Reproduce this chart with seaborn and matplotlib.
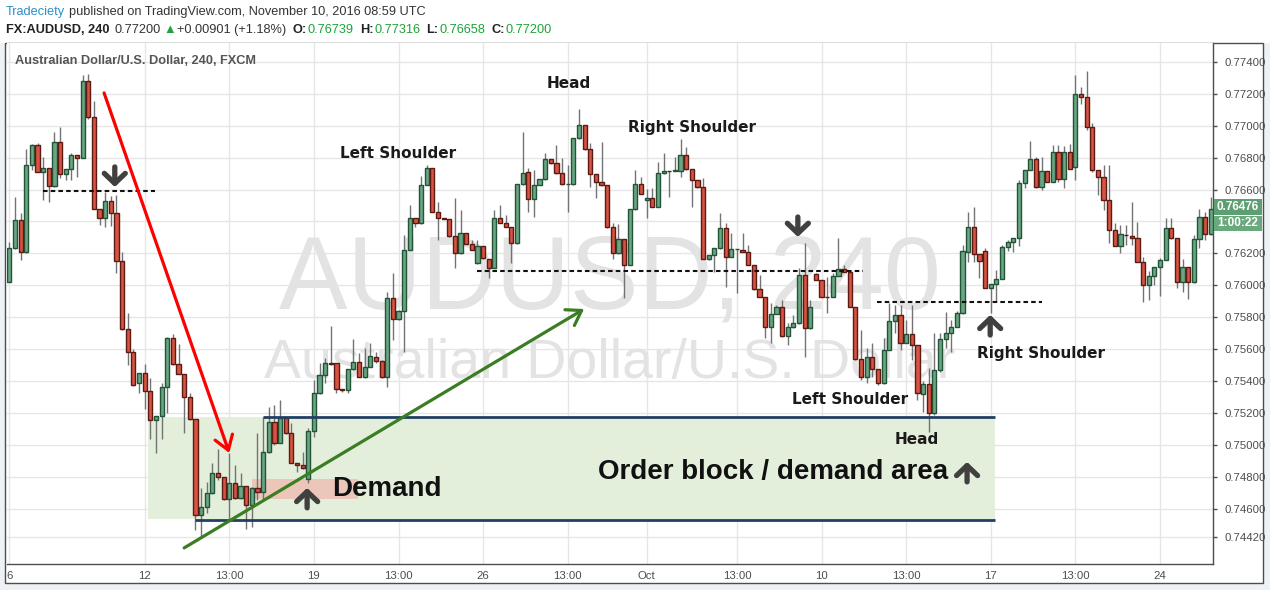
import numpy as np
import pandas as pd
import matplotlib
matplotlib.use("Agg")
import matplotlib.pyplot as plt
import matplotlib.patches as mpatches
import seaborn as sns

# AUDUSD 240 candles (bar index 0 = Sep 6)
opens = [0.76023, 0.76232, 0.76410, 0.76207, 0.76755, 0.76880, 0.76713, 0.76734, 0.76620, 0.76900,
         0.76696, 0.76727, 0.76817, 0.76796, 0.77280, 0.77053, 0.76479, 0.76424, 0.76529, 0.76450,
         0.76149, 0.75724, 0.75580, 0.75389, 0.75448, 0.75339, 0.75155, 0.75180, 0.75360, 0.75667,
         0.75504, 0.75442, 0.75297, 0.75160, 0.74560, 0.74608, 0.74695, 0.74820, 0.74796, 0.74658,
         0.74758, 0.74664, 0.74741, 0.74620, 0.74727, 0.74702, 0.74957, 0.75145, 0.75013, 0.75170,
         0.75072, 0.74883, 0.74873, 0.74784, 0.75089, 0.75323, 0.75438, 0.75515, 0.75511, 0.75348,
         0.75340, 0.75473, 0.75521, 0.75423, 0.75490, 0.75553, 0.75528, 0.75423, 0.75918, 0.75787,
         0.75841, 0.76222, 0.76420, 0.76389, 0.76629, 0.76734, 0.76462, 0.76420, 0.76414, 0.76309,
         0.76201, 0.76326, 0.76259, 0.76138, 0.76247, 0.76163, 0.76107, 0.76420, 0.76393, 0.76368,
         0.76263, 0.76633, 0.76713, 0.76539, 0.76629, 0.76665, 0.76790, 0.76765, 0.76702, 0.76633,
         0.76633, 0.76922, 0.77005, 0.76853, 0.76698, 0.76648, 0.76627, 0.76364, 0.76201, 0.76288,
         0.76127, 0.76476, 0.76633, 0.76535, 0.76545, 0.76493, 0.76702, 0.76717, 0.76717, 0.76717,
         0.76817, 0.76727, 0.76660, 0.76614, 0.76163, 0.76190, 0.76232, 0.76357, 0.76180, 0.76226,
         0.76222, 0.76211, 0.76127, 0.75975, 0.75929, 0.75737, 0.75820, 0.75862, 0.75682, 0.75737,
         0.75762, 0.76065, 0.75730, 0.76071, 0.76033, 0.75929, 0.75929, 0.76058, 0.76100, 0.76086,
         0.75866, 0.75536, 0.75427, 0.75549, 0.75473, 0.75385, 0.75595, 0.75778, 0.75814, 0.75640,
         0.75695, 0.75626, 0.75316, 0.75379, 0.75197, 0.75469, 0.75663, 0.75699, 0.75741, 0.75824,
         0.76211, 0.76363, 0.76194, 0.76215, 0.75981, 0.76006, 0.76040, 0.76240, 0.76274, 0.76295,
         0.76639, 0.76723, 0.76790, 0.76618, 0.76717, 0.76650, 0.76834, 0.76664, 0.76834, 0.76739,
         0.77200, 0.77180, 0.76990, 0.76723, 0.76681, 0.76535, 0.76347, 0.76249, 0.76315, 0.76311,
         0.76299, 0.76144, 0.76002, 0.76060, 0.76113, 0.76159, 0.76357, 0.76295, 0.76023, 0.76113,
         0.76019, 0.76290, 0.76426, 0.76319]
highs = [0.76274, 0.76556, 0.76450, 0.76855, 0.76884, 0.76890, 0.76807, 0.76734, 0.76960, 0.76990,
         0.76727, 0.76828, 0.76817, 0.77319, 0.77323, 0.77156, 0.76479, 0.76587, 0.76562, 0.76566,
         0.76211, 0.75824, 0.75598, 0.75448, 0.75504, 0.75416, 0.75180, 0.75385, 0.75678, 0.75694,
         0.75632, 0.75442, 0.75322, 0.75160, 0.74727, 0.74769, 0.74888, 0.74971, 0.74796, 0.74946,
         0.74873, 0.74820, 0.74741, 0.74737, 0.75076, 0.75176, 0.75239, 0.75250, 0.75280, 0.75172,
         0.75134, 0.74885, 0.74953, 0.75103, 0.75406, 0.75511, 0.75542, 0.75745, 0.75512, 0.75349,
         0.75473, 0.75661, 0.75574, 0.75605, 0.75640, 0.75584, 0.75530, 0.75960, 0.76075, 0.75843,
         0.76315, 0.76504, 0.76420, 0.76685, 0.76754, 0.76734, 0.76525, 0.76420, 0.76414, 0.76545,
         0.76472, 0.76326, 0.76284, 0.76284, 0.76247, 0.76163, 0.76472, 0.76504, 0.76441, 0.76368,
         0.76633, 0.76963, 0.76734, 0.76723, 0.76667, 0.76832, 0.76790, 0.76880, 0.76796, 0.76754,
         0.76922, 0.77103, 0.77005, 0.76894, 0.76698, 0.76901, 0.76627, 0.76389, 0.76384, 0.76288,
         0.76476, 0.76723, 0.76681, 0.76602, 0.76608, 0.76775, 0.76828, 0.76717, 0.76807, 0.76915,
         0.76869, 0.76727, 0.76660, 0.76671, 0.76190, 0.76232, 0.76456, 0.76389, 0.76326, 0.76230,
         0.76326, 0.76253, 0.76127, 0.76065, 0.75929, 0.75891, 0.75877, 0.75908, 0.75762, 0.75814,
         0.76107, 0.76263, 0.75908, 0.76075, 0.76035, 0.76054, 0.76075, 0.76295, 0.76127, 0.76086,
         0.75866, 0.75720, 0.75605, 0.75636, 0.75473, 0.75668, 0.75887, 0.75877, 0.75877, 0.75783,
         0.75877, 0.75626, 0.75400, 0.75479, 0.75699, 0.75699, 0.75835, 0.75782, 0.75839, 0.76253,
         0.76462, 0.76493, 0.76194, 0.76236, 0.76006, 0.76096, 0.76253, 0.76284, 0.76299, 0.76660,
         0.76723, 0.76905, 0.76807, 0.76807, 0.76719, 0.76880, 0.76880, 0.76876, 0.76884, 0.77316,
         0.77245, 0.77344, 0.77016, 0.76725, 0.76754, 0.76754, 0.76389, 0.76378, 0.76378, 0.76524,
         0.76399, 0.76180, 0.76090, 0.76113, 0.76169, 0.76420, 0.76420, 0.76297, 0.76165, 0.76115,
         0.76315, 0.76478, 0.76462, 0.76556]
lows = [0.76019, 0.76230, 0.76160, 0.76200, 0.76723, 0.76710, 0.76535, 0.76525, 0.76614, 0.76675,
        0.76660, 0.76660, 0.76680, 0.76796, 0.77043, 0.76479, 0.76378, 0.76368, 0.76370, 0.76075,
        0.75720, 0.75500, 0.75368, 0.75327, 0.75222, 0.75034, 0.74950, 0.75034, 0.75197, 0.75500,
        0.75442, 0.75076, 0.75155, 0.74466, 0.74424, 0.74570, 0.74690, 0.74779, 0.74654, 0.74528,
        0.74660, 0.74660, 0.74470, 0.74482, 0.74654, 0.74654, 0.74950, 0.74998, 0.75010, 0.75070,
        0.74883, 0.74831, 0.74850, 0.74763, 0.75050, 0.75320, 0.75385, 0.75500, 0.75327, 0.75333,
        0.75327, 0.75470, 0.75423, 0.75420, 0.75488, 0.75511, 0.75420, 0.75360, 0.75657, 0.75785,
        0.75584, 0.76220, 0.76368, 0.76385, 0.76627, 0.76460, 0.76284, 0.76414, 0.76305, 0.76107,
        0.76199, 0.76257, 0.76220, 0.76136, 0.76167, 0.76044, 0.76105, 0.76392, 0.76366, 0.76138,
        0.76260, 0.76630, 0.76462, 0.76430, 0.76627, 0.76663, 0.76763, 0.76700, 0.76630, 0.76462,
        0.76630, 0.76920, 0.76851, 0.76619, 0.76545, 0.76625, 0.76362, 0.76163, 0.76199, 0.75918,
        0.76125, 0.76474, 0.76569, 0.76420, 0.76491, 0.76491, 0.76700, 0.76556, 0.76715, 0.76681,
        0.76725, 0.76493, 0.76612, 0.76163, 0.76161, 0.76086, 0.76230, 0.75992, 0.76178, 0.75950,
        0.76209, 0.76125, 0.75973, 0.75927, 0.75668, 0.75636, 0.75818, 0.75678, 0.75626, 0.75735,
        0.75760, 0.75553, 0.75728, 0.76031, 0.75927, 0.75824, 0.75927, 0.76056, 0.76084, 0.75864,
        0.75534, 0.75406, 0.75385, 0.75425, 0.75375, 0.75383, 0.75593, 0.75699, 0.75595, 0.75638,
        0.75532, 0.75281, 0.75208, 0.75082, 0.75187, 0.75458, 0.75605, 0.75584, 0.75739, 0.75822,
        0.76148, 0.76148, 0.76048, 0.75981, 0.75824, 0.75897, 0.76038, 0.76215, 0.76211, 0.76249,
        0.76608, 0.76721, 0.76612, 0.76598, 0.76646, 0.76648, 0.76650, 0.76608, 0.76729, 0.76658,
        0.77135, 0.76974, 0.76712, 0.76566, 0.76472, 0.76263, 0.76247, 0.76201, 0.76253, 0.76253,
        0.76144, 0.75893, 0.75908, 0.76002, 0.75935, 0.76157, 0.76293, 0.75981, 0.75960, 0.75912,
        0.76017, 0.76232, 0.76284, 0.76317]
closes = [0.76232, 0.76410, 0.76207, 0.76755, 0.76880, 0.76713, 0.76734, 0.76620, 0.76900, 0.76696,
          0.76727, 0.76817, 0.76796, 0.77280, 0.77053, 0.76479, 0.76424, 0.76529, 0.76450, 0.76149,
          0.75724, 0.75580, 0.75375, 0.75448, 0.75339, 0.75155, 0.75180, 0.75360, 0.75667, 0.75504,
          0.75442, 0.75297, 0.75160, 0.74560, 0.74608, 0.74695, 0.74820, 0.74796, 0.74658, 0.74758,
          0.74664, 0.74741, 0.74620, 0.74727, 0.74702, 0.74957, 0.75145, 0.75013, 0.75170, 0.75072,
          0.74883, 0.74873, 0.74852, 0.75089, 0.75323, 0.75438, 0.75515, 0.75507, 0.75348, 0.75340,
          0.75473, 0.75521, 0.75423, 0.75490, 0.75557, 0.75528, 0.75423, 0.75918, 0.75787, 0.75841,
          0.76222, 0.76420, 0.76389, 0.76629, 0.76734, 0.76462, 0.76420, 0.76416, 0.76309, 0.76201,
          0.76326, 0.76259, 0.76222, 0.76247, 0.76169, 0.76107, 0.76420, 0.76393, 0.76368, 0.76263,
          0.76633, 0.76706, 0.76539, 0.76629, 0.76665, 0.76790, 0.76765, 0.76702, 0.76633, 0.76635,
          0.76922, 0.77005, 0.76853, 0.76698, 0.76648, 0.76627, 0.76364, 0.76201, 0.76288, 0.76127,
          0.76476, 0.76633, 0.76571, 0.76545, 0.76493, 0.76702, 0.76717, 0.76715, 0.76723, 0.76817,
          0.76727, 0.76660, 0.76614, 0.76163, 0.76190, 0.76232, 0.76357, 0.76180, 0.76226, 0.76228,
          0.76211, 0.76127, 0.75975, 0.75929, 0.75737, 0.75820, 0.75862, 0.75682, 0.75737, 0.75762,
          0.76065, 0.75730, 0.75862, 0.76033, 0.75929, 0.75927, 0.76058, 0.76100, 0.76086, 0.75866,
          0.75536, 0.75427, 0.75549, 0.75473, 0.75385, 0.75595, 0.75778, 0.75814, 0.75640, 0.75695,
          0.75626, 0.75323, 0.75379, 0.75197, 0.75469, 0.75663, 0.75699, 0.75741, 0.75824, 0.76215,
          0.76363, 0.76194, 0.76152, 0.75981, 0.76006, 0.76040, 0.76240, 0.76274, 0.76295, 0.76639,
          0.76723, 0.76790, 0.76618, 0.76717, 0.76650, 0.76834, 0.76664, 0.76834, 0.76729, 0.77200,
          0.77180, 0.76990, 0.76723, 0.76681, 0.76535, 0.76347, 0.76249, 0.76319, 0.76313, 0.76299,
          0.76144, 0.76002, 0.76060, 0.76113, 0.76159, 0.76357, 0.76295, 0.76023, 0.76113, 0.76023,
          0.76290, 0.76426, 0.76319, 0.76476]

x_ticks = [0, 24, 39, 54, 69, 84, 99, 113, 129, 144, 159, 174, 189, 204]
x_labels = ['6', '12', '13:00', '19', '13:00', '26', '13:00', 'Oct',
            '13:00', '10', '13:00', '17', '13:00', '24']
y_ticks = [0.7442] + [round(0.746 + 0.002 * k, 3) for k in range(15)]
hidden_label = 0.764          # covered by the last-price box in the reference
countdown = '1:00:22'

# annotation levels (price) and spans (bar index)
sell_level, sell_span = 0.76591, (6.0, 25.8)
neck1_level, neck1_span = 0.76090, (82.9, 151.4)
neck2_level, neck2_span = 0.75898, (153.8, 183.1)
zone_top, zone_bot, zone_span = 0.75174, 0.74535, (24.6, 174.8)
blue_top_start, blue_bot_start, blue_bot = 45.0, 32.9, 0.74528
demand_span, demand_lo, demand_hi = (43.1, 61.8), 0.74658, 0.74783

df = pd.DataFrame({'open': opens, 'high': highs, 'low': lows, 'close': closes})
df['bar'] = np.arange(len(df))
df['up'] = df['close'] >= df['open']
df['bottom'] = df[['open', 'close']].min(axis=1)
df['height'] = (df['close'] - df['open']).abs().clip(lower=0.00002)

sns.set_style('white')
plt.rcParams['font.family'] = ['Liberation Sans', 'DejaVu Sans']

W, H = 1270, 590
fx = lambda x: x / W
fy = lambda y: 1 - y / H

fig = plt.figure(figsize=(12.7, 5.9), dpi=100, facecolor='#eef1f5')
fig.patches.append(mpatches.Rectangle((0, fy(43)), 1, 43 / H, transform=fig.transFigure,
                                      fc='white', ec='none', zorder=-2))
fig.patches.append(mpatches.Rectangle((fx(5), fy(583)), (1263 - 5) / W, (583 - 43) / H,
                                      transform=fig.transFigure, fc='white', ec='#4d4d4d',
                                      lw=1, zorder=-1))

ax = fig.add_axes([fx(7), fy(564), (1213 - 7) / W, (564 - 43) / H])
ax.set_zorder(1)
ax.set_facecolor('white')

# watermark
ax.text(0.5, 0.491, 'AUDUSD, 240', transform=ax.transAxes, ha='center', va='baseline',
        fontsize=74, color='#e3e3e3', zorder=1)
ax.text(0.5, 0.357, 'Australian Dollar/U.S. Dollar', transform=ax.transAxes, ha='center',
        va='baseline', fontsize=40, color='#e3e3e3', zorder=1)

# demand zones
ax.add_patch(mpatches.Rectangle((zone_span[0], zone_bot), zone_span[1] - zone_span[0],
                                zone_top - zone_bot, fc='#e3eedb', ec='none', zorder=2))
ax.add_patch(mpatches.Rectangle((demand_span[0], demand_lo), demand_span[1] - demand_span[0],
                                demand_hi - demand_lo, fc='#ecc6b9', ec='none', zorder=2.5))

# candles
ax.vlines(df['bar'], df['low'], df['high'], color='#737375', lw=1, zorder=3)
up = df[df['up']]
dn = df[~df['up']]
ax.bar(up['bar'], up['height'], bottom=up['bottom'], width=0.74, color='#6ba583',
       edgecolor='#225437', lw=1, zorder=4)
ax.bar(dn['bar'], dn['height'], bottom=dn['bottom'], width=0.74, color='#d75442',
       edgecolor='#5b1a13', lw=1, zorder=4)

# zone borders
ax.hlines(zone_top, blue_top_start, zone_span[1], color='#213f63', lw=2, zorder=6)
ax.hlines(blue_bot, blue_bot_start, zone_span[1], color='#213f63', lw=2, zorder=6)

# dashed necklines
for lvl, (a, b) in [(sell_level, sell_span), (neck1_level, neck1_span), (neck2_level, neck2_span)]:
    ax.hlines(lvl, a, b, colors='#111111', linestyles=(0, (2.2, 1.5)), lw=1.5, zorder=6)

# trend arrows
ax.annotate('', xy=(39.0, 0.74948), xytext=(16.8, 0.77206),
            arrowprops=dict(arrowstyle='->,head_length=0.5,head_width=0.33', color='#ff0000',
                            lw=2.3, mutation_scale=20, shrinkA=0, shrinkB=0), zorder=7)
ax.annotate('', xy=(101.9, 0.75851), xytext=(31.0, 0.74353),
            arrowprops=dict(arrowstyle='->,head_length=0.5,head_width=0.33', color='#3a7d23',
                            lw=2.3, mutation_scale=20, shrinkA=0, shrinkB=0), zorder=7)

# small dark arrows (tail -> tip)
dark_arrows = [((18.7, 0.76742), (18.7, 0.76616)),
               ((139.8, 0.76428), (139.8, 0.76303)),
               ((173.9, 0.75688), (173.9, 0.75814)),
               ((52.8, 0.74604), (52.8, 0.74729)),
               ((169.8, 0.74767), (169.8, 0.74892))]
for tail, tip in dark_arrows:
    ax.annotate('', xy=tip, xytext=tail,
                arrowprops=dict(arrowstyle='->,head_length=0.4,head_width=0.42', color='#404040',
                                lw=3.8, mutation_scale=18, shrinkA=0, shrinkB=0), zorder=8)

# pattern labels
labels = [(99.1, 0.77262, 'Head'), (68.9, 0.76823, 'Left Shoulder'),
          (121.0, 0.76992, 'Right Shoulder'), (182.9, 0.75575, 'Right Shoulder'),
          (149.1, 0.75281, 'Left Shoulder'), (160.9, 0.75030, 'Head')]
for x, y, t in labels:
    ax.text(x, y, t, ha='center', va='center', fontsize=11, fontweight='bold',
            family='DejaVu Sans', color='#1a1a1a', zorder=8)
ax.text(57.2, 0.74723, 'Demand', ha='left', va='center', fontsize=20, fontweight='bold',
        color='#111111', zorder=8)
ax.text(104.4, 0.74829, 'Order block / demand area', ha='left', va='center', fontsize=20,
        fontweight='bold', color='#111111', zorder=8)

# axes
ax.set_xlim(-0.41, 213.4)
ax.set_ylim(0.74252, 0.77519)
ax.set_xticks(x_ticks)
ax.set_xticklabels(x_labels)
ax.yaxis.tick_right()
ax.set_yticks(y_ticks)
ax.set_yticklabels(['' if abs(v - hidden_label) < 1e-9 else f'{v:.5f}' for v in y_ticks])
ax.tick_params(axis='y', direction='out', length=3, width=1, color='#4d4d4d', labelsize=8.2,
               labelcolor='#4d4d4d', pad=5)
ax.tick_params(axis='x', direction='out', length=3, width=1, color='#4d4d4d', labelsize=8.2,
               labelcolor='#4d4d4d', pad=2)
ax.grid(True, color='#e6e6e6', lw=1)
ax.set_axisbelow(True)
for s in ['left', 'top']:
    ax.spines[s].set_visible(False)
for s in ['right', 'bottom']:
    ax.spines[s].set_color('#4d4d4d')
    ax.spines[s].set_linewidth(1)

# last price and countdown boxes on the price scale
last = closes[-1]
for (top, bot), text, fc in [((199, 215), f'{last:.5f}', '#5d9f71'),
                             ((216, 231), countdown, '#6aa87d')]:
    fig.patches.append(mpatches.Rectangle((fx(1214), fy(bot)), (1262 - 1214) / W,
                                          (bot - top) / H, transform=fig.transFigure,
                                          fc=fc, ec='none', zorder=2))
    fig.text(fx(1238), fy((top + bot) / 2), text, ha='center', va='center', fontsize=8.5,
             fontweight='bold', color='white', zorder=3)

# inner title
fig.text(fx(15), fy(61), 'Australian Dollar/U.S. Dollar, 240, FXCM', ha='left', va='center',
         fontsize=9.2, fontweight='bold', color='#555555')

# header, pieces chained left to right with the gaps seen in the reference
green = '#1fa13a'
line1 = [('Tradeciety', '#2a8fcb', 'normal', 0),
         ('published on TradingView.com, November 10, 2016 08:59 UTC', '#333333', 'normal', 4)]
line2 = [('FX:AUDUSD, 240', '#222222', 'bold', 0), ('0.77200', '#333333', 'normal', 5),
         ('\u25b2', green, 'normal', 3), ('+0.00901 (+1.18%)', '#333333', 'normal', 1),
         ('O:', '#222222', 'bold', 6), ('0.76739', green, 'normal', 1),
         ('H:', '#222222', 'bold', 6), ('0.77316', green, 'normal', 1),
         ('L:', '#222222', 'bold', 6), ('0.76658', green, 'normal', 1),
         ('C:', '#222222', 'bold', 6), ('0.77200', green, 'normal', 1)]
renderer = fig.canvas.get_renderer()
for ypx, parts in [(12, line1), (30, line2)]:
    xpx = 6
    for t, c, w, gap in parts:
        xpx += gap
        txt = fig.text(fx(xpx), fy(ypx), t, ha='left', va='center', fontsize=9.2, color=c,
                       fontweight=w, family=['Liberation Sans', 'DejaVu Sans'])
        xpx = txt.get_window_extent(renderer).x1

fig.savefig('out.png', dpi=100, facecolor=fig.get_facecolor())
